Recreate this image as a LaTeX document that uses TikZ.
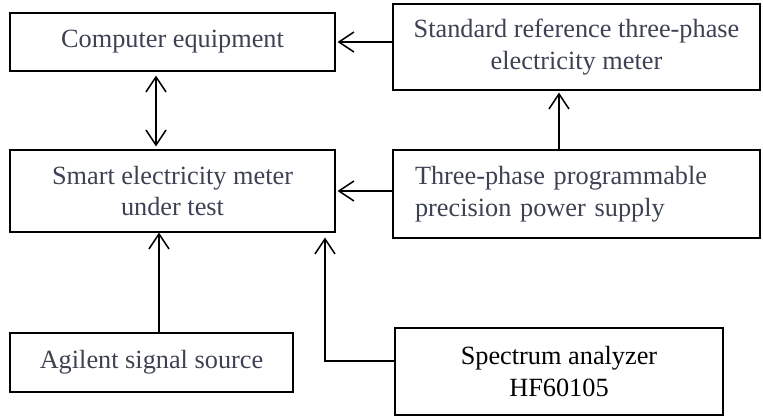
\documentclass[tikz,border=0pt]{standalone}
\usepackage{fontspec}
\setmainfont{Liberation Serif}
\usetikzlibrary{arrows.meta}
\definecolor{txtgray}{RGB}{60,66,82}
\begin{document}
\begin{tikzpicture}[x=1pt,y=-1pt,
  box/.style={draw,line width=1.2pt,inner sep=0pt,align=center,text=txtgray,font=\fontsize{26.3}{31.5}\selectfont},
  arr/.style={line width=1.5pt,-{Straight Barb[length=15pt,width=20pt]}},
  darr/.style={line width=1.5pt,{Straight Barb[length=15pt,width=20pt]}-{Straight Barb[length=15pt,width=20pt]}}]
\useasboundingbox (0,0) rectangle (763,417);
\node[box,minimum width=325pt,minimum height=58pt] (comp) at (172.5,42) {Computer equipment};
\node[box,minimum width=325pt,minimum height=82pt] (smart) at (172.5,191) {Smart electricity meter\\under test};
\node[box,minimum width=367pt,minimum height=86pt] (std) at (576.5,47) {Standard reference three-phase\\electricity meter};
\node[box,minimum width=367pt,minimum height=88pt,align=left,text width=323pt,inner xsep=22pt] (tp) at (576.5,194) {Three-phase programmable\\precision power supply};
\node[box,minimum width=283pt,minimum height=59pt] (agi) at (151.5,362.5) {Agilent signal source};
\node[box,minimum width=328pt,minimum height=87pt,text=black] (spec) at (559,371.5) {Spectrum analyzer\\HF60105};
\coordinate (bend) at (325,361);
\draw[arr,shorten >=2pt] (std.west |- comp.east) -- (comp.east);
\draw[darr,shorten >=3pt,shorten <=4pt] ([xshift=-16.5pt]comp.south) -- ([xshift=-16.5pt]smart.north);
\draw[arr,shorten >=2pt] (tp.west |- smart.east) -- (smart.east);
\draw[arr,shorten >=2pt] ([xshift=-17.5pt]tp.north) -- ([xshift=-17.5pt]std.south);
\draw[arr] ([xshift=7.5pt]agi.north) -- ([xshift=7.5pt]agi.north |- smart.south);
\draw[arr,shorten >=5pt] (spec.west |- bend) -- (bend) -- (bend |- smart.south);
\end{tikzpicture}
\end{document}
